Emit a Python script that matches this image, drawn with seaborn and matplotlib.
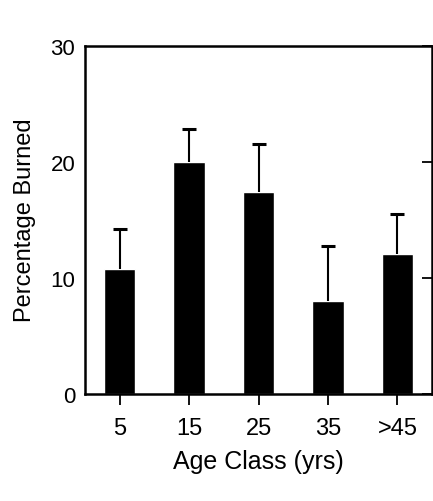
import pandas as pd
import matplotlib
matplotlib.use("Agg")
import matplotlib.pyplot as plt
import seaborn as sns

# datos
clases = ["5", "15", "25", "35", ">45"]
quemado = [10.7, 20.0, 17.4, 8.0, 12.0]
error_sup = [3.5, 2.8, 4.1, 4.7, 3.5]

df = pd.DataFrame({"clase": clases, "pct": quemado})

sns.set_style("white")
plt.rcParams['font.family'] = ['Liberation Sans', 'DejaVu Sans']

fig = plt.figure(figsize=(4.33, 5.02), dpi=100)
ax = fig.add_axes([0.196, 0.214, 0.802, 0.693])

sns.barplot(data=df, x="clase", y="pct", color="black", width=0.45,
            saturation=1, errorbar=None, ax=ax)

# barras de error solo hacia arriba
eb = ax.errorbar(range(len(clases)), quemado, yerr=[[0] * len(clases), error_sup],
                 fmt="none", ecolor="black", elinewidth=1.5, capsize=5, capthick=2.2)
# quitar el cap inferior
eb[1][0].set_visible(False)

ax.set_xlim(-0.5, 4.5)
ax.set_ylim(0, 30)
ax.set_yticks([0, 10, 20, 30])
ax.set_xlabel("Age Class (yrs)", fontsize=18, labelpad=7, color="black")
ax.set_ylabel("Percentage Burned", fontsize=17, labelpad=10, color="black")

for s in ax.spines.values():
    s.set_visible(True)
    s.set_color("black")
    s.set_linewidth(1.8)

ax.tick_params(axis="y", direction="in", length=7, width=1.3, right=True,
               labelsize=16, colors="black", pad=7)
ax.tick_params(axis="x", direction="out", length=8, width=1.3, bottom=True,
               labelsize=17, colors="black", pad=9)

fig.savefig("out.png", dpi=100)
